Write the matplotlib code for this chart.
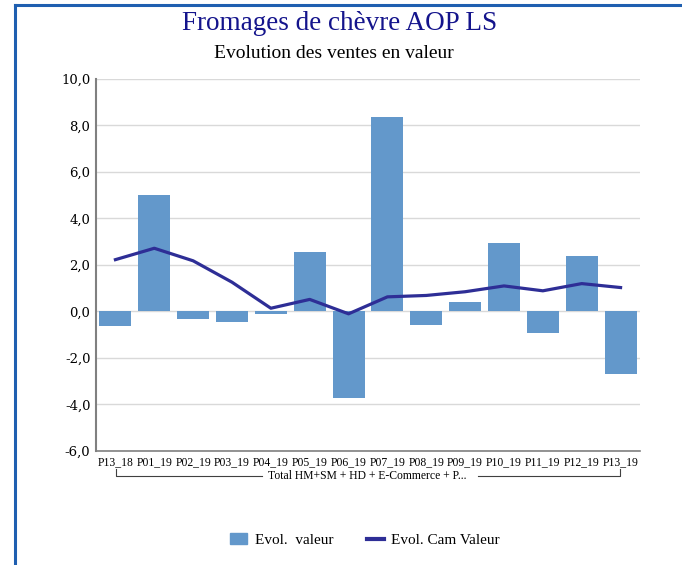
import matplotlib.pyplot as plt
import numpy as np
from matplotlib.lines import Line2D

# Données
periodes = ['P13_18', 'P01_19', 'P02_19', 'P03_19', 'P04_19', 'P05_19', 'P06_19',
            'P07_19', 'P08_19', 'P09_19', 'P10_19', 'P11_19', 'P12_19', 'P13_19']
evol_valeur = [-0.63, 5.02, -0.33, -0.46, -0.12, 2.58, -3.72,
               8.37, -0.59, 0.43, 2.96, -0.93, 2.40, -2.69]
evol_cam = [2.23, 2.72, 2.18, 1.26, 0.14, 0.52, -0.10,
            0.63, 0.69, 0.85, 1.10, 0.89, 1.20, 1.03]
yticks = [-6, -4, -2, 0, 2, 4, 6, 8, 10]

serif = 'Liberation Serif'
bar_color = '#6398CB'
line_color = '#2E2E96'

fig = plt.figure(figsize=(6.82, 5.65), dpi=100)
ax = fig.add_axes([96 / 682, 1 - 451 / 565, (640 - 96) / 682, (451 - 79) / 565])

x = np.arange(len(periodes))
ax.bar(x, evol_valeur, width=0.82, color=bar_color, zorder=2)
ax.plot(x, evol_cam, color=line_color, linewidth=2.3, zorder=3)

ax.set_xlim(-0.5, len(periodes) - 0.5)
ax.set_ylim(-6, 10)
ax.set_yticks(yticks)
ax.set_yticklabels([f"{v:.1f}".replace('.', ',') for v in yticks],
                   fontfamily='DejaVu Serif', fontsize=9.5)
ax.set_xticks(x)
ax.set_xticklabels(periodes, fontfamily=serif, fontsize=8.4)
ax.tick_params(axis='both', length=0, pad=4)

ax.grid(axis='y', color='#d9d9d9', linewidth=1, zorder=0)
ax.set_axisbelow(True)
for s in ['top', 'right']:
    ax.spines[s].set_visible(False)
ax.spines['left'].set_color('#808080')
ax.spines['left'].set_linewidth(1.5)
ax.spines['bottom'].set_color('#808080')
ax.spines['bottom'].set_linewidth(1.2)

# Accolade de regroupement sous les périodes
def fx(px):
    return px / 682

def fy(py):
    return 1 - py / 565

bk = '#404040'
fig.add_artist(Line2D([fx(116), fx(116), fx(262)], [fy(469), fy(476), fy(476)], color=bk, lw=0.8))
fig.add_artist(Line2D([fx(478), fx(620), fx(620)], [fy(476), fy(476), fy(469)], color=bk, lw=0.8))
fig.text(fx(367), fy(476), 'Total HM+SM + HD + E-Commerce + P...', fontfamily=serif,
         fontsize=8.4, ha='center', va='center')

# Titres
fig.text(fx(340), fy(23), 'Fromages de chèvre AOP LS', fontfamily=serif, fontsize=19.5,
         color='#14148C', ha='center', va='center')
fig.text(fx(334), fy(53), 'Evolution des ventes en valeur', fontfamily=serif, fontsize=14,
         color='black', ha='center', va='center')

# Légende
handles = [plt.Rectangle((0, 0), 1, 1, color=bar_color),
           Line2D([0], [0], color=line_color, lw=3)]
fig.legend(handles, ['Evol.  valeur', 'Evol. Cam Valeur'], loc='center',
           bbox_to_anchor=(fx(365), fy(540)), ncol=2, frameon=False,
           prop={'family': serif, 'size': 11}, handlelength=1.1,
           handletextpad=0.5, columnspacing=2.2)

# Cadre bleu
fig.add_artist(Line2D([fx(15), 1], [fy(5), fy(5)], color='#1F5FB0', lw=2.2))
fig.add_artist(Line2D([fx(15), fx(15)], [fy(5), 0], color='#1F5FB0', lw=2.2))

fig.savefig('out.png', dpi=100)
